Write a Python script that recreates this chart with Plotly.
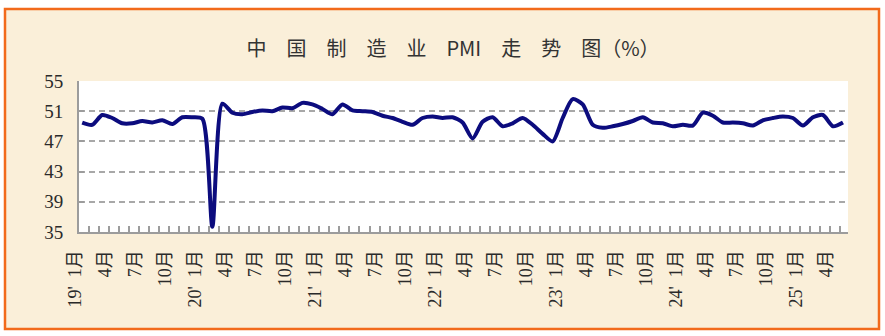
import plotly.graph_objects as go

# ---------------- data (China manufacturing PMI, %) ----------------
pmi_2019 = [49.5, 49.2, 50.5, 50.1, 49.4, 49.4, 49.7, 49.5, 49.8, 49.3, 50.2, 50.2]
pmi_2020 = [50.0, 35.7, 52.0, 50.8, 50.6, 50.9, 51.1, 51.0, 51.5, 51.4, 52.1, 51.9]
pmi_2021 = [51.3, 50.6, 51.9, 51.1, 51.0, 50.9, 50.4, 50.1, 49.6, 49.2, 50.1, 50.3]
pmi_2022 = [50.1, 50.2, 49.5, 47.4, 49.6, 50.2, 49.0, 49.4, 50.1, 49.2, 48.0, 47.0]
pmi_2023 = [50.1, 52.6, 51.9, 49.2, 48.8, 49.0, 49.3, 49.7, 50.2, 49.5, 49.4, 49.0]
pmi_2024 = [49.2, 49.1, 50.8, 50.4, 49.5, 49.5, 49.4, 49.1, 49.8, 50.1, 50.3, 50.1]
pmi_2025 = [49.1, 50.2, 50.5, 49.0, 49.5]

pmi = pmi_2019 + pmi_2020 + pmi_2021 + pmi_2022 + pmi_2023 + pmi_2024 + pmi_2025
months = [f"{y}-{m:02d}" for y in range(2019, 2026) for m in range(1, 13)][:len(pmi)]

tick_labels = ["19'\u20021月", "4月", "7月", "10月",
               "20'\u20021月", "4月", "7月", "10月",
               "21'\u20021月", "4月", "7月", "10月",
               "22'\u20021月", "4月", "7月", "10月",
               "23'\u20021月", "4月", "7月", "10月",
               "24'\u20021月", "4月", "7月", "10月",
               "25'\u20021月", "4月"]
tick_months = months[::3]
y_ticks = [35, 39, 43, 47, 51, 55]
y_grid = [39, 43, 47, 51]

sp = "\u2002\u2002"
title_text = sp.join(["中", "国", "制", "造", "业", "PMI", "走", "势", "图（%）"])

# ---------------- layout geometry ----------------
W, H = 885, 336
L, R, T, B = 79, 37, 81, 104
PW, PH = W - L - R, H - T - B


def px(x):
    return (x - L) / PW


def py(y):
    return (H - B - y) / PH


xpos = list(range(len(months)))
# tick marks sit between months; every third carries a month label
label_map = dict(zip(tick_months, tick_labels))
tick_pos = [i - 0.3 for i in range(len(months))]
tick_text = [label_map.get(m, "") for m in months]

fig = go.Figure()
fig.add_trace(go.Scatter(
    x=xpos, y=pmi, mode="lines",
    line=dict(color="#0C0C7E", width=4, shape="spline", smoothing=0.7),
    hoverinfo="y", showlegend=False,
))

grey = "#9C9C9C"
fig.update_layout(
    width=W, height=H,
    margin=dict(l=L, r=R, t=T, b=B, pad=0),
    paper_bgcolor="#FAEFD9",
    plot_bgcolor="#FFFFFF",
    showlegend=False,
    title=dict(text=title_text, x=453 / W, xanchor="center", xref="container",
               y=1 - 49 / H, yanchor="middle", yref="container",
               font=dict(family="Noto Sans CJK SC", size=20, color="#333333")),
    xaxis=dict(
        range=[-0.32, 76.5], showgrid=False, zeroline=False,
        showline=True, linecolor=grey, linewidth=2,
        tickmode="array", tickvals=tick_pos + [76.45], ticktext=tick_text + [""],
        tickangle=-90, ticks="inside", ticklen=6, tickwidth=1.5, tickcolor=grey,
        ticklabelstandoff=9, ticklabelshift=-4,
        tickfont=dict(family="Liberation Serif, Noto Sans CJK SC", size=18, color="#2A2A2A"),
        fixedrange=True,
    ),
    yaxis=dict(
        range=[35, 55], tickmode="array", tickvals=y_ticks,
        showgrid=False, zeroline=False,
        showline=True, linecolor=grey, linewidth=2,
        ticks="inside", ticklen=5, tickwidth=1.5, tickcolor=grey,
        ticklabelstandoff=10,
        tickfont=dict(family="Liberation Serif", size=19, color="#2A2A2A"),
        minor=dict(tickmode="array", tickvals=y_grid, ticks="", showgrid=True,
                   gridcolor="#A8A8A8", gridwidth=2, griddash="6px,4px"),
        fixedrange=True,
    ),
    shapes=[
        dict(type="rect", xref="paper", yref="paper", x0=px(0), x1=px(W), y0=py(0), y1=py(8),
             fillcolor="white", line=dict(width=0), layer="above"),
        dict(type="rect", xref="paper", yref="paper", x0=px(0), x1=px(W), y0=py(329), y1=py(H),
             fillcolor="white", line=dict(width=0), layer="above"),
        dict(type="rect", xref="paper", yref="paper", x0=px(0), x1=px(4), y0=py(0), y1=py(H),
             fillcolor="white", line=dict(width=0), layer="above"),
        dict(type="rect", xref="paper", yref="paper", x0=px(880), x1=px(W), y0=py(0), y1=py(H),
             fillcolor="white", line=dict(width=0), layer="above"),
        dict(type="rect", xref="paper", yref="paper", x0=px(5), x1=px(879), y0=py(9), y1=py(329),
             fillcolor="rgba(0,0,0,0)", line=dict(color="#F26A1B", width=2.5), layer="above"),
    ],
)

fig.write_html("out.html")
